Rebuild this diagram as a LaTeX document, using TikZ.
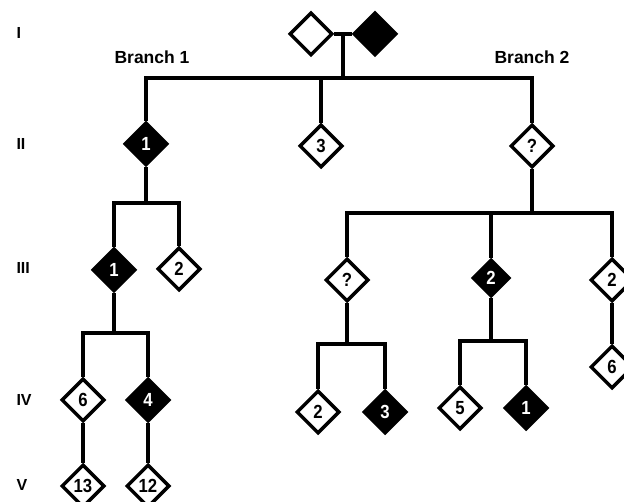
\documentclass[tikz,border=0pt]{standalone}
\usepackage{fontspec}
\setmainfont{Liberation Sans}
\newfontfamily\narrowfont[FakeStretch=0.88]{Liberation Sans}
\usetikzlibrary{shapes.geometric}
\tikzset{
  unaff/.style={diamond, draw, line width=3.5pt, fill=white, aspect=1,
    minimum size=43pt, inner sep=0pt,
    font=\narrowfont\fontsize{19}{19}\selectfont\bfseries},
  aff/.style={unaff, fill=black, text=white},
  affsmall/.style={aff, minimum size=37pt},
  ln/.style={line width=3.5pt},
  gen/.style={anchor=west, font=\fontsize{16}{16}\selectfont\bfseries},
  branch/.style={font=\fontsize{17.5}{17.5}\selectfont\bfseries}
}
\begin{document}
\begin{tikzpicture}[x=1pt, y=-1pt]
      \useasboundingbox (0,0) rectangle (624,502);
      % generation labels
      \node[gen] (gI) at (13,33) {I};
      \node[gen] (gII) at (13,144) {II};
      \node[gen] (gIII) at (13,268) {III};
      \node[gen] (gIV) at (13,400) {IV};
      \node[gen] (gV) at (13,485) {V};
      \node[branch] (b1) at (152,57) {Branch 1};
      \node[branch] (b2) at (532,57) {Branch 2};
      % generation I
      \node[unaff] (i1) at (311,34) {};
      \node[aff] (i2) at (375,34) {};
      % generation II
      \node[aff] (ii1) at (146,144) {1};
      \node[unaff] (ii2) at (321,146) {3};
      \node[unaff] (ii3) at (532,146) {?};
      % generation III
      \node[aff] (iii1) at (114,270) {1};
      \node[unaff] (iii2) at (179,269) {2};
      \node[unaff] (iii3) at (347,280) {?};
      \node[affsmall] (iii4) at (491,278) {2};
      \node[unaff] (iii5) at (612,280) {2};
      % generation IV
      \node[unaff] (iv1) at (83,400) {6};
      \node[aff] (iv2) at (148,400) {4};
      \node[unaff] (iv3) at (318,412) {2};
      \node[aff] (iv4) at (385,412) {3};
      \node[unaff] (iv5) at (460,408) {5};
      \node[aff] (iv6) at (526,408) {1};
      \node[unaff] (iv7) at (612,367) {6};
      % generation V
      \node[unaff] (v1) at (83,486) {13};
      \node[unaff] (v2) at (148,486) {12};
      % sibship joints
      \coordinate (m1) at (343,34);
      \coordinate (c1) at (343,78);
      \coordinate (c2) at (146,203);
      \coordinate (c3) at (114,333);
      \coordinate (c4) at (532,213);
      \coordinate (c5) at (347,344);
      \coordinate (c6) at (491,341);
      % lines
      \begin{scope}[ln]
        \draw (i1.east) -- (i2.west);
        \draw (m1) -- (c1);
        \draw (ii1.north) |- (c1) -| (ii3.north);
        \draw (ii2.north) -- (ii2.north |- c1);
        \draw (ii1.south) -- (c2);
        \draw (iii1.north) |- (c2) -| (iii2.north);
        \draw (iii1.south) -- (c3);
        \draw (iv1.north) |- (c3) -| (iv2.north);
        \draw (iv1.south) -- (v1.north);
        \draw (iv2.south) -- (v2.north);
        \draw (ii3.south) -- (c4);
        \draw (iii3.north) |- (c4) -| (iii5.north);
        \draw (iii4.north) -- (iii4.north |- c4);
        \draw (iii3.south) -- (c5);
        \draw (iv3.north) |- (c5) -| (iv4.north);
        \draw (iii4.south) -- (c6);
        \draw (iv5.north) |- (c6) -| (iv6.north);
        \draw (iii5.south) -- (iv7.north);
      \end{scope}
    \end{tikzpicture}
\end{document}
